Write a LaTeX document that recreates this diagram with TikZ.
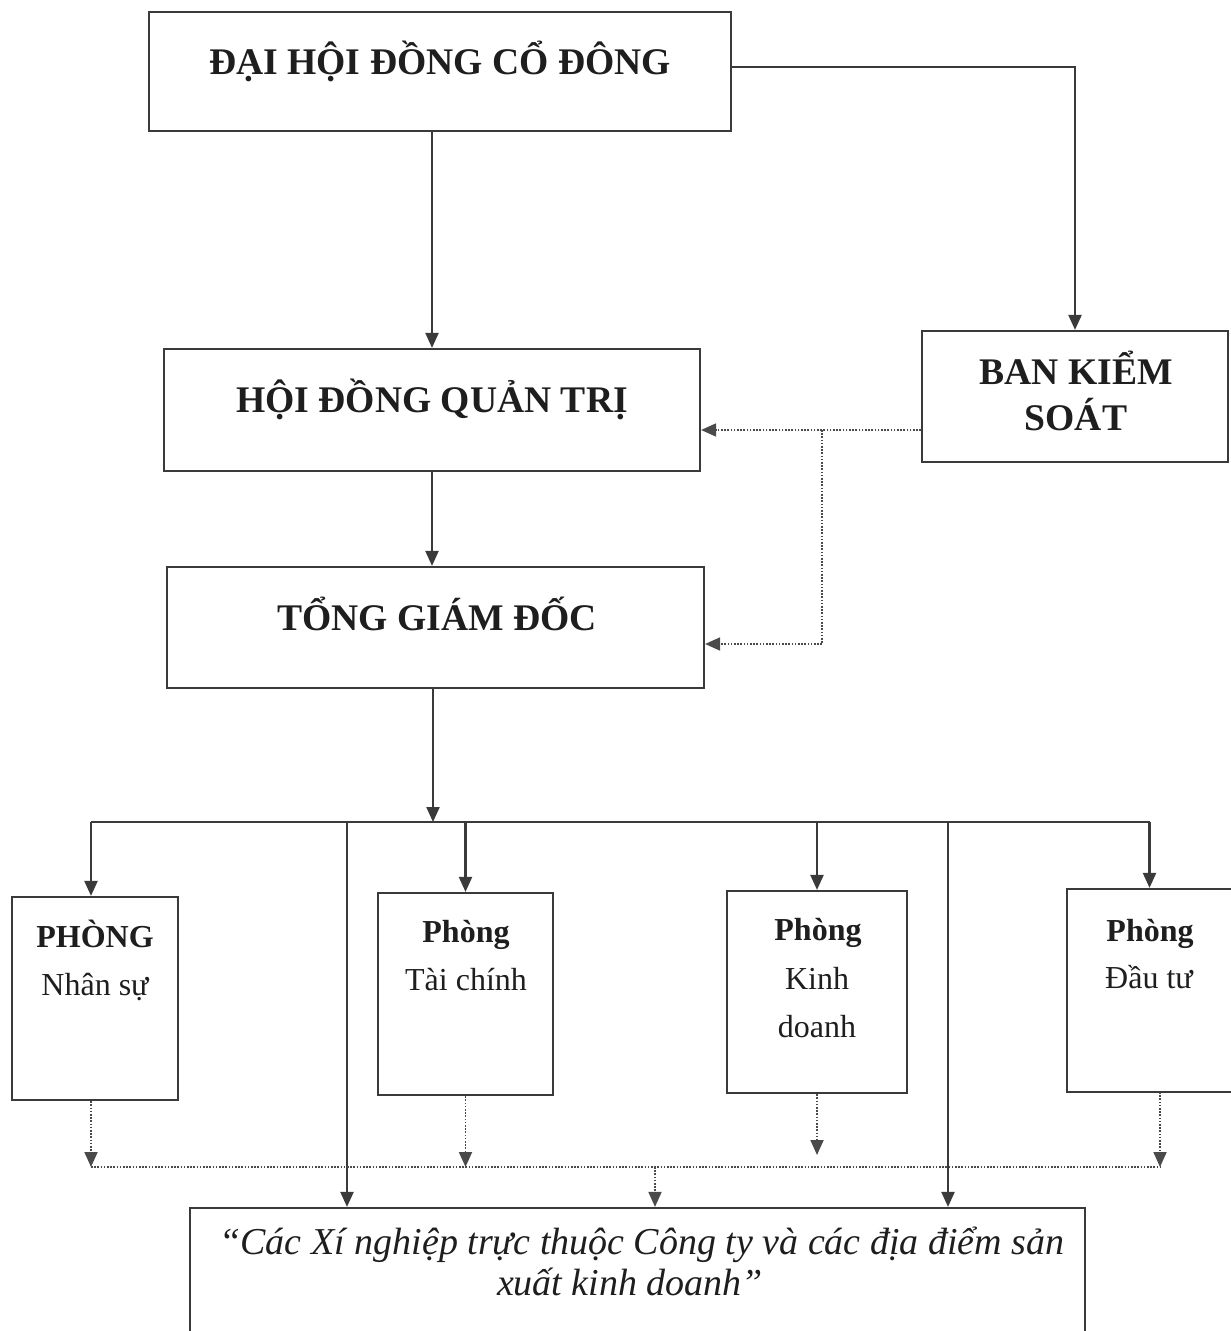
\documentclass[tikz,border=0pt]{standalone}
\usepackage{fontspec}
\setmainfont{Liberation Serif}
\usetikzlibrary{arrows.meta}
\definecolor{linec}{HTML}{3A3A3A}
\definecolor{textc}{HTML}{1E1E1E}
\definecolor{dotcol}{HTML}{4A4A4A}
\begin{document}
\begin{tikzpicture}[x=0.5pt,y=-0.5pt,
  box/.style={draw=linec, line width=1.1pt, inner sep=0pt},
  head/.style={inner sep=0pt, anchor=base, text=textc, font=\fontsize{18.8}{22}\selectfont\bfseries},
  dept/.style={inner sep=0pt, anchor=base, text=textc, font=\fontsize{16}{19}\selectfont},
  deptb/.style={inner sep=0pt, anchor=base, text=textc, font=\fontsize{16}{19}\selectfont\bfseries},
  ital/.style={inner sep=0pt, anchor=base, text=textc, font=\fontsize{19}{22}\selectfont\itshape},
  conn/.style={draw=linec, line width=1.1pt, -{Triangle[length=7.5pt,width=6.5pt]}},
  plain/.style={draw=linec, line width=1.1pt},
  dotc/.style={draw=dotcol, line width=0.9pt, dash pattern=on 0.8pt off 0.8pt, -{Triangle[length=7.5pt,width=6.5pt]}},
  dotp/.style={draw=dotcol, line width=0.9pt, dash pattern=on 0.8pt off 0.8pt},
]
\useasboundingbox (0,0) rectangle (1230,1331);
\fill[white] (0,0) rectangle (1230,1331);

% boxes
\node[box, minimum width=291pt, minimum height=59.5pt] (dhd) at (440,71.5) {};
\node[box, minimum width=268pt, minimum height=61pt] (hdqt) at (432,410) {};
\node[box, minimum width=153pt, minimum height=65.5pt] (bks) at (1075,396.5) {};
\node[box, minimum width=268.5pt, minimum height=60.5pt] (tgd) at (435.5,627.5) {};
\node[box, minimum width=83pt, minimum height=101.5pt] (ns) at (95,998.5) {};
\node[box, minimum width=87.5pt, minimum height=101pt] (tc) at (465.5,994) {};
\node[box, minimum width=90pt, minimum height=101pt] (kd) at (817,992) {};
\node[box, minimum width=82.5pt, minimum height=101.5pt] (dt) at (1149.5,990.5) {};
\node[box, minimum width=447.5pt, minimum height=68.5pt] (bot) at (637.5,1276.5) {};

% texts
\node[head] (t1) at (440,75) {ĐẠI HỘI ĐỒNG CỔ ĐÔNG};
\node[head] (t2) at (432,413) {HỘI ĐỒNG QUẢN TRỊ};
\node[head] (t3) at (437,630) {TỔNG GIÁM ĐỐC};
\node[head] (t4) at (1076,385) {BAN KIỂM};
\node[head] (t5) at (1076,430) {SOÁT};
\node[deptb] (n1) at (95,947) {PHÒNG};
\node[dept] (n2) at (95,995) {Nhân sự};
\node[deptb] (c1) at (466,942) {Phòng};
\node[dept] (c2) at (466,990) {Tài chính};
\node[deptb] (kt1) at (818,940) {Phòng};
\node[dept] (kt2) at (817,989) {Kinh};
\node[dept] (kt3) at (817,1037) {doanh};
\node[deptb] (d1) at (1150,941) {Phòng};
\node[dept] (d2) at (1149,988) {Đầu tư};
\node[ital] (b1) at (642,1254) {“Các Xí nghiệp trực thuộc Công ty và các địa điểm sản};
\node[ital] (b2) at (630,1295) {xuất kinh doanh”};

% coordinates
\coordinate (k1) at (822,430);
\coordinate (k2) at (822,644);
\coordinate (b0) at (433,822);
\coordinate (bL) at (91,822);
\coordinate (l1) at (347,822);
\coordinate (l2) at (948,822);
\coordinate (dbL) at (91,1167);
\coordinate (dbR) at (1160,1167);
\coordinate (dm) at (655,1167);
\coordinate (kdE) at (817,1155);
\coordinate (dtS) at (1160,1092);
\coordinate (dhE) at (731,67);

% solid connectors
\draw[conn] (dhE) -| (bks.north);
\draw[conn] (hdqt.north |- dhd.south) -- (hdqt.north);
\draw[conn] (hdqt.south) -- (hdqt.south |- tgd.north);
\draw[conn] (b0 |- tgd.south) -- (b0);
\draw[plain] (bL) -- (dt.north |- bL);
\draw[conn] (bL) -- (bL |- ns.north);
\draw[conn] (tc.north |- bL) -- (tc.north);
\draw[conn] (kd.north |- bL) -- (kd.north);
\draw[conn] (dt.north |- bL) -- (dt.north);
\draw[conn] (l1) -- (l1 |- bot.north);
\draw[conn] (l2) -- (l2 |- bot.north);

% dotted connectors
\draw[dotc] (bks.west |- k1) -- (hdqt.east |- k1);
\draw[dotp] (k1) -- (k2);
\draw[dotc] (k2) -- (tgd.east |- k2);
\draw[dotc] (bL |- ns.south) -- (dbL);
\draw[dotc] (tc.south) -- (tc.south |- dbL);
\draw[dotc] (kd.south) -- (kdE);
\draw[dotc] (dtS) -- (dbR);
\draw[dotp] (dbL) -- (dbR);
\draw[dotc] (dm) -- (dm |- bot.north);
\end{tikzpicture}
\end{document}
